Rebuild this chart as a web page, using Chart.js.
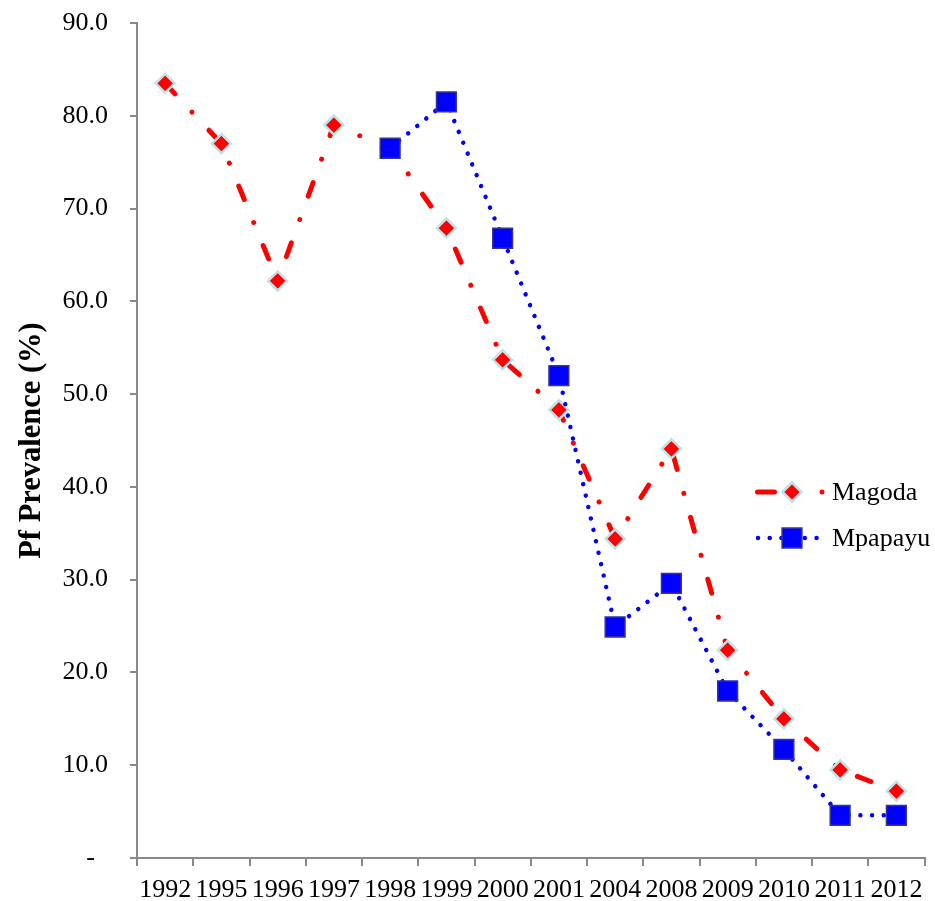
<!DOCTYPE html>
<html>
<head>
<meta charset="utf-8">
<script src="https://cdn.jsdelivr.net/npm/chart.js@4/dist/chart.umd.min.js"></script>
<style>
html,body{margin:0;padding:0;background:#fff;overflow:hidden;}
#wrap{width:935px;height:901px;overflow:hidden;}
</style>
</head>
<body>
<div id="wrap"><canvas id="c" width="940" height="901"></canvas></div>
<script>
const years = ['1992','1995','1996','1997','1998','1999','2000','2001','2004','2008','2009','2010','2011','2012'];
const magoda = [83.5, 77.0, 62.2, 79.0, 76.5, 67.9, 53.7, 48.3, 34.4, 44.1, 22.4, 15.0, 9.5, 7.2];
const mpapayu = [null, null, null, null, 76.5, 81.5, 66.8, 52.0, 24.9, 29.6, 18.0, 11.7, 4.6, 4.6];
const yTicks = [0, 10, 20, 30, 40, 50, 60, 70, 80, 90];
const seriesNames = ['Magoda', 'Mpapayu'];

const FONT = "'Liberation Serif', 'Times New Roman', serif";
const AXIS = '#888888';

const legendPlugin = {
  id: 'customLegend',
  afterDraw(chart) {
    const ctx = chart.ctx;
    const ds = chart.data.datasets;
    const rows = [492, 538];
    ds.forEach((d, i) => {
      const y = rows[i];
      ctx.save();
      ctx.strokeStyle = d.borderColor;
      ctx.lineWidth = d.borderWidth;
      ctx.lineCap = 'round';
      if (i === 0) {
        ctx.beginPath(); ctx.moveTo(757.5, y); ctx.lineTo(774.5, y); ctx.stroke();
        ctx.beginPath(); ctx.moveTo(822, y); ctx.lineTo(822.01, y); ctx.stroke();
      } else {
        ctx.setLineDash([0.01, 11.7]);
        ctx.beginPath(); ctx.moveTo(758, y); ctx.lineTo(820, y); ctx.stroke();
      }
      ctx.restore();
      ctx.save();
      ctx.fillStyle = d.pointBackgroundColor;
      ctx.strokeStyle = d.pointBorderColor;
      ctx.lineWidth = d.pointBorderWidth;
      Chart.helpers.drawPoint(ctx, {
        pointStyle: d.pointStyle, radius: d.pointRadius, rotation: 0,
        borderWidth: d.pointBorderWidth
      }, 792, y);
      ctx.restore();
      ctx.save();
      ctx.fillStyle = '#000';
      ctx.font = '26px ' + FONT;
      ctx.textAlign = 'left';
      ctx.textBaseline = 'middle';
      ctx.fillText(d.label, 832, y + 1);
      ctx.restore();
    });
  }
};

new Chart(document.getElementById('c'), {
  type: 'line',
  data: {
    labels: years,
    datasets: [
      {
        label: seriesNames[0],
        data: magoda,
        order: 1,
        borderColor: '#ff0000',
        backgroundColor: '#ff0000',
        borderWidth: 5,
        borderDash: [14.4, 24.9, 0.01, 24.9],
        borderCapStyle: 'round',
        borderJoinStyle: 'round',
        tension: 0,
        pointStyle: 'rectRot',
        pointRadius: 9.5,
        pointBackgroundColor: '#ff0000',
        pointBorderColor: '#bde2e7',
        pointBorderWidth: 2.5,
        pointHoverRadius: 9.5
      },
      {
        label: seriesNames[1],
        data: mpapayu,
        order: 0,
        borderColor: '#0000ff',
        backgroundColor: '#0000ff',
        borderWidth: 4.5,
        borderDash: [0.01, 11.7],
        borderCapStyle: 'round',
        borderJoinStyle: 'round',
        tension: 0,
        pointStyle: 'rect',
        pointRadius: 14,
        pointBackgroundColor: '#0000ff',
        pointBorderColor: '#333399',
        pointBorderWidth: 1.5,
        pointHoverRadius: 14
      }
    ]
  },
  options: {
    responsive: false,
    animation: false,
    devicePixelRatio: 1,
    layout: { padding: { top: 23, right: 11, left: 0, bottom: 0 } },
    plugins: {
      legend: { display: false },
      tooltip: { enabled: false },
      title: { display: false }
    },
    scales: {
      x: {
        type: 'category',
        offset: true,
        grid: {
          display: true, drawOnChartArea: false, drawTicks: true,
          tickLength: 8, color: AXIS, lineWidth: 2, offset: true
        },
        border: { display: true, color: AXIS, width: 2 },
        ticks: {
          autoSkip: false, maxRotation: 0, minRotation: 0,
          color: '#000', padding: 9,
          font: { family: FONT, size: 26 }
        },
        afterFit(scale) {
          scale.height = 43;
          scale.paddingLeft = 0;
          scale.paddingRight = 0;
          scale.paddingTop = 0;
          scale.paddingBottom = 0;
        }
      },
      y: {
        min: 0, max: 90,
        afterBuildTicks(scale) { scale.ticks = yTicks.map(v => ({ value: v })); },
        grid: {
          display: true, drawOnChartArea: false, drawTicks: true,
          tickLength: 7, color: AXIS, lineWidth: 2
        },
        border: { display: true, color: AXIS, width: 2 },
        ticks: {
          color: '#000', padding: 22,
          font: { family: FONT, size: 26 },
          callback: (v) => v === 0 ? '-  ' : Number(v).toFixed(1)
        },
        title: {
          display: true,
          text: 'Pf Prevalence (%)',
          color: '#000',
          font: { family: FONT, size: 30.5, weight: 'bold' },
          padding: { top: 14, bottom: 0 }
        },
        afterFit(scale) {
          scale.width = 137;
          scale.paddingTop = 10;
          scale.paddingBottom = 10;
          scale.paddingLeft = 0;
          scale.paddingRight = 0;
        }
      }
    }
  },
  plugins: [legendPlugin]
});
</script>
</body>
</html>
